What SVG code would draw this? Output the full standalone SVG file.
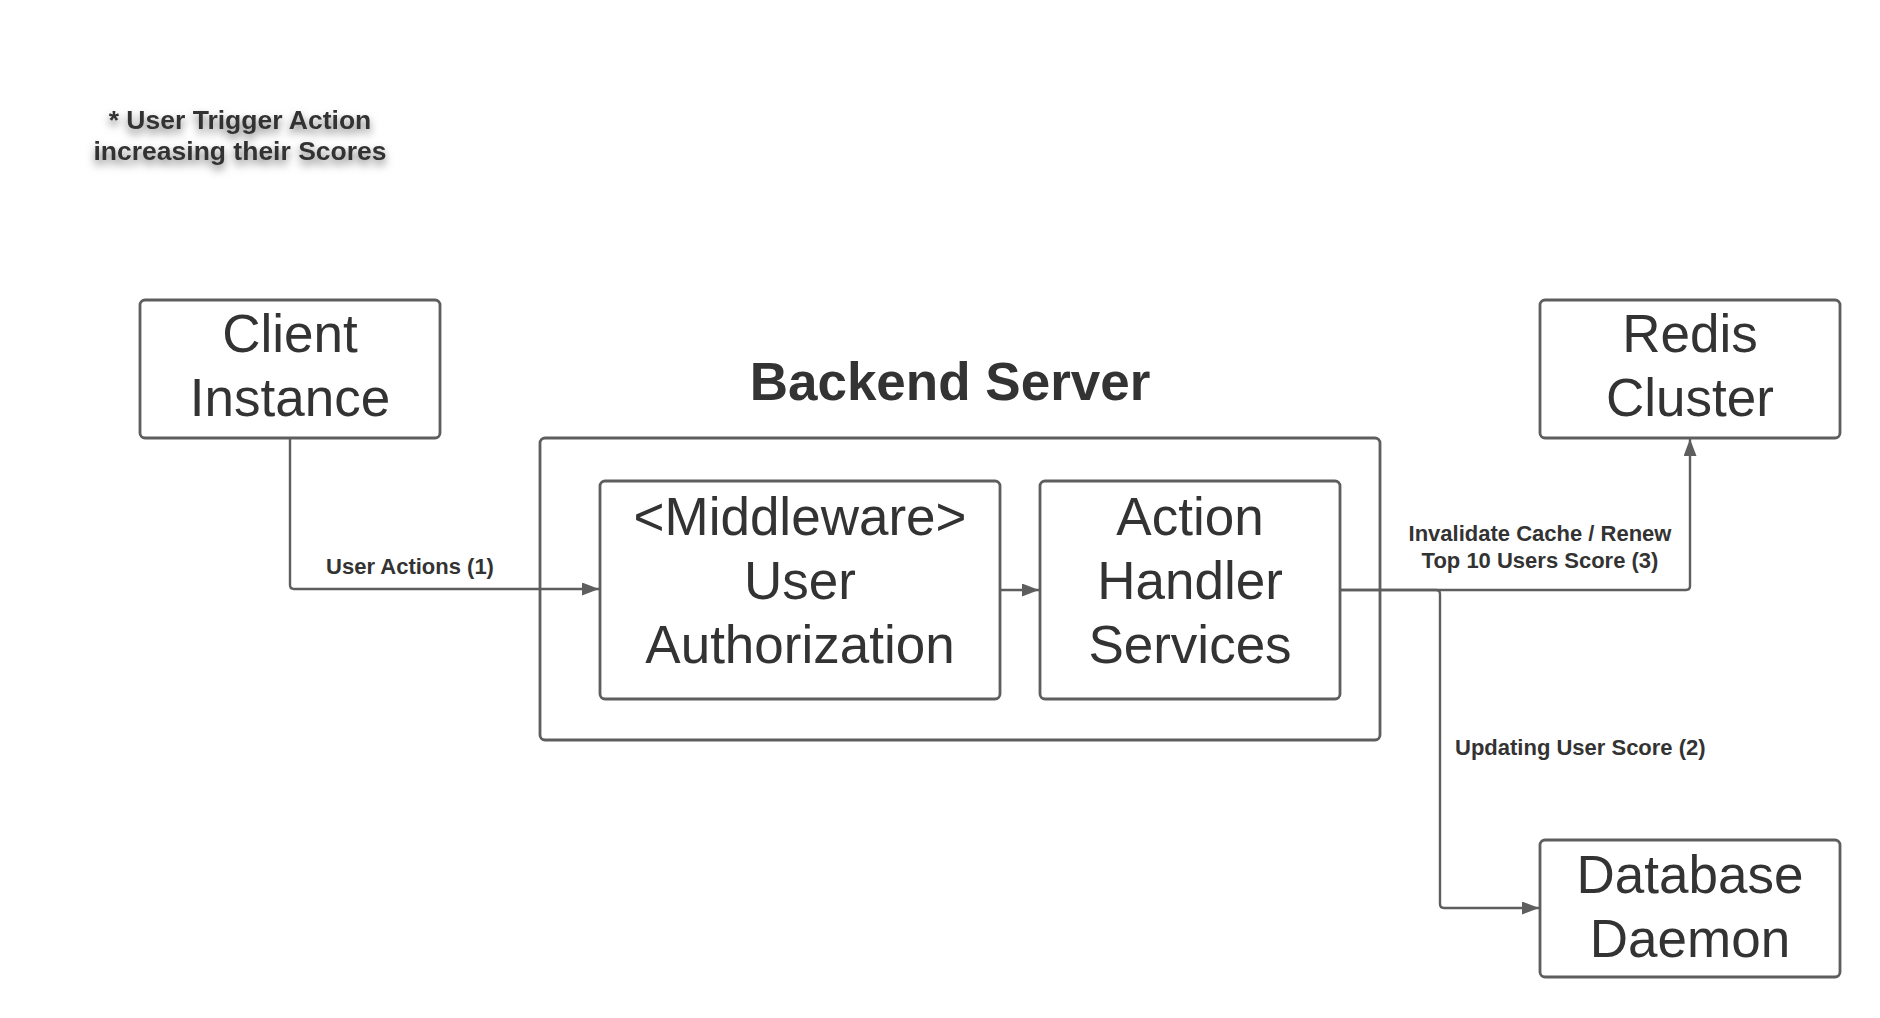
<svg xmlns="http://www.w3.org/2000/svg" width="1880" height="1018" viewBox="0 0 1880 1018">
<defs>
<style>
.box{fill:#ffffff;stroke:#5e5e5e;stroke-width:2.8}
.node{font-family:"Liberation Sans",Arial,sans-serif;font-size:53px;fill:#333333;text-anchor:middle}
.title{font-family:"Liberation Sans",Arial,sans-serif;font-size:53px;font-weight:bold;fill:#333333;text-anchor:middle}
.lbl{font-family:"Liberation Sans",Arial,sans-serif;font-size:22px;font-weight:bold;fill:#333333}
.note{font-family:"Liberation Sans",Arial,sans-serif;font-size:26.5px;font-weight:bold;fill:#333333;text-anchor:middle}
.conn{fill:none;stroke:#5e5e5e;stroke-width:2.4}
</style>
<marker id="arr" markerUnits="userSpaceOnUse" markerWidth="20" markerHeight="14" refX="17" refY="6.5" orient="auto">
<path d="M0,0 L17,6.5 L0,13 z" fill="#5e5e5e"/>
</marker>
<filter id="shadow" x="-20%" y="-50%" width="140%" height="220%">
<feDropShadow dx="0" dy="5" stdDeviation="4" flood-color="#000000" flood-opacity="0.5"/>
</filter>
</defs>
<rect width="1880" height="1018" fill="#ffffff"/>

<g id="note" filter="url(#shadow)">
<text class="note" x="240" y="129">* User Trigger Action</text>
<text class="note" x="240" y="160">increasing their Scores</text>
</g>

<g id="backend">
<rect class="box" x="540" y="438" width="840" height="302" rx="5"/>
<text class="title" x="950" y="400">Backend Server</text>
</g>

<g id="client">
<rect class="box" x="140" y="300" width="300" height="138" rx="5"/>
<text class="node" x="290" y="352">Client</text>
<text class="node" x="290" y="416">Instance</text>
</g>

<g id="redis">
<rect class="box" x="1540" y="300" width="300" height="138" rx="5"/>
<text class="node" x="1690" y="352">Redis</text>
<text class="node" x="1690" y="416">Cluster</text>
</g>

<g id="middleware">
<rect class="box" x="600" y="481" width="400" height="218" rx="5"/>
<text class="node" x="800" y="535">&lt;Middleware&gt;</text>
<text class="node" x="800" y="599">User</text>
<text class="node" x="800" y="663">Authorization</text>
</g>

<g id="action">
<rect class="box" x="1040" y="481" width="300" height="218" rx="5"/>
<text class="node" x="1190" y="535">Action</text>
<text class="node" x="1190" y="599">Handler</text>
<text class="node" x="1190" y="663">Services</text>
</g>

<g id="database">
<rect class="box" x="1540" y="840" width="300" height="137" rx="5"/>
<text class="node" x="1690" y="893">Database</text>
<text class="node" x="1690" y="957">Daemon</text>
</g>

<g id="connectors">
<path class="conn" d="M290,438 L290,585 Q290,589 294,589 L599,589" marker-end="url(#arr)"/>
<path class="conn" d="M1000,590 L1039,590" marker-end="url(#arr)"/>
<path class="conn" d="M1340,590 L1686,590 Q1690,590 1690,586 L1690,439" marker-end="url(#arr)"/>
<path class="conn" d="M1340,590 L1436,590 Q1440,590 1440,594 L1440,904 Q1440,908 1444,908 L1539,908" marker-end="url(#arr)"/>
<text class="lbl" x="410" y="574" text-anchor="middle">User Actions (1)</text>
<text class="lbl" x="1540" y="541" text-anchor="middle">Invalidate Cache / Renew</text>
<text class="lbl" x="1540" y="568" text-anchor="middle">Top 10 Users Score (3)</text>
<text class="lbl" x="1455" y="755">Updating User Score (2)</text>
</g>
</svg>
